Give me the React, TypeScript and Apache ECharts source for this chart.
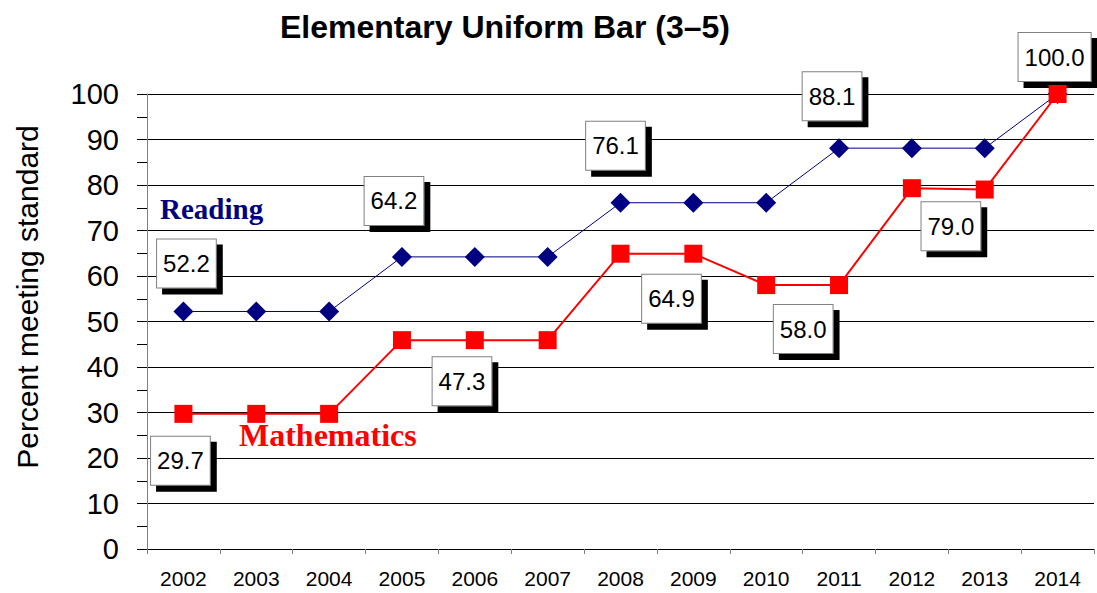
import React, { useEffect, useRef } from "react";
import * as echarts from "echarts";

const years = ["2002", "2003", "2004", "2005", "2006", "2007", "2008", "2009", "2010", "2011", "2012", "2013", "2014"];
const readingValues = [52.2, 52.2, 52.2, 64.2, 64.2, 64.2, 76.1, 76.1, 76.1, 88.1, 88.1, 88.1, 100.0];
const mathValues = [29.7, 29.7, 29.7, 45.9, 45.9, 45.9, 64.9, 64.9, 58.0, 58.0, 79.3, 79.0, 100.0];
const readingLabels: (string | null)[] = ["52.2", null, null, "64.2", null, null, "76.1", null, null, "88.1", null, null, "100.0"];
const mathLabels: (string | null)[] = ["29.7", null, null, "47.3", null, null, "64.9", null, "58.0", null, "79.0", null, null];
const yTicks = [0, 10, 20, 30, 40, 50, 60, 70, 80, 90, 100];

// label box offsets (layout only)
const readingOffsets: number[][] = [[3, -48], [0, 0], [0, 0], [-8, -56], [0, 0], [0, 0], [-5, -57], [0, 0], [0, 0], [-7, -52], [0, 0], [0, 0], [-3, -37]];
const mathOffsets: number[][] = [[-3, 47], [0, 0], [0, 0], [60, 41], [0, 0], [0, 0], [51, 45], [0, 0], [37, 44], [0, 0], [39, 38], [0, 0], [0, 0]];

const boxLabel = {
  show: true,
  position: "inside",
  fontFamily: "Arial, 'Liberation Sans', sans-serif",
  fontSize: 24,
  color: "#000",
  backgroundColor: "#fff",
  borderColor: "#808080",
  borderWidth: 1,
  padding: [10, 6, 10, 6],
  lineHeight: 28,
  shadowColor: "#000",
  shadowOffsetX: 6,
  shadowOffsetY: 6,
  shadowBlur: 0,
};

function buildData(values: number[], labels: (string | null)[], offsets: number[][]) {
  return values.map((v, i) => {
    const t = labels[i];
    if (t == null) return { value: v };
    return { value: v, label: { ...boxLabel, formatter: t, offset: offsets[i] } };
  });
}

export default function App() {
  const ref = useRef<HTMLDivElement>(null);
  useEffect(() => {
    if (!ref.current) return;
    const chart = echarts.init(ref.current, null, { renderer: "svg" });
    chart.setOption({
      animation: false,
      backgroundColor: "#fff",
      title: {
        text: "Elementary Uniform Bar (3\u20135)",
        left: 275,
        top: 6,
        textStyle: { fontFamily: "Arial, 'Liberation Sans', sans-serif", fontSize: 32, fontWeight: "bold", color: "#000" },
      },
      grid: { left: 147, right: 3, top: 94, bottom: 44, containLabel: false },
      xAxis: {
        type: "category",
        data: years,
        boundaryGap: true,
        axisLine: { show: true, lineStyle: { color: "#000", width: 1 } },
        axisTick: { show: true, length: 5, lineStyle: { color: "#808080" } },
        axisLabel: { fontFamily: "Arial, 'Liberation Sans', sans-serif", fontSize: 21, color: "#000", margin: 19 },
        splitLine: { show: false },
      },
      yAxis: {
        type: "value",
        min: yTicks[0],
        max: yTicks[yTicks.length - 1],
        interval: 10,
        axisLine: { show: true, lineStyle: { color: "#808080", width: 1 } },
        axisTick: { show: true, inside: false, length: 10, lineStyle: { color: "#000" } },
        minorTick: { show: true, splitNumber: 2, length: 10, lineStyle: { color: "#000" } },
        axisLabel: { fontFamily: "Arial, 'Liberation Sans', sans-serif", fontSize: 29, color: "#000", margin: 28 },
        splitLine: { show: true, lineStyle: { color: "#000", width: 1 } },
      },
      graphic: [
        {
          type: "text",
          x: 27,
          y: 297,
          rotation: Math.PI / 2,
          style: {
            text: "Percent meeting standard",
            fill: "#000",
            fontFamily: "Arial, 'Liberation Sans', sans-serif",
            fontSize: 30,
            textAlign: "center",
            textVerticalAlign: "middle",
          },
        },
        {
          type: "text",
          left: 160,
          top: 194,
          z: 100,
          style: { text: "Reading", fill: "#000080", fontFamily: "'Liberation Serif', 'Times New Roman', serif", fontWeight: "bold", fontSize: 29 },
        },
        {
          type: "text",
          left: 239,
          top: 419,
          z: 100,
          style: { text: "Mathematics", fill: "#ff0000", fontFamily: "'Liberation Serif', 'Times New Roman', serif", fontWeight: "bold", fontSize: 32 },
        },
      ],
      series: [
        {
          name: "Reading",
          type: "line",
          data: buildData(readingValues, readingLabels, readingOffsets),
          symbol: "diamond",
          symbolSize: 20,
          clip: false,
          lineStyle: { color: "#000080", width: 1 },
          itemStyle: { color: "#000080" },
          label: { show: false },
          z: 3,
        },
        {
          name: "Mathematics",
          type: "line",
          data: buildData(mathValues, mathLabels, mathOffsets),
          symbol: "rect",
          symbolSize: 18,
          clip: false,
          lineStyle: { color: "#ff0000", width: 2 },
          itemStyle: { color: "#ff0000" },
          label: { show: false },
          z: 4,
        },
      ],
    });
    return () => chart.dispose();
  }, []);
  return <div ref={ref} style={{ position: "fixed", left: 0, top: 0, width: 1097, height: 593 }} />;
}
